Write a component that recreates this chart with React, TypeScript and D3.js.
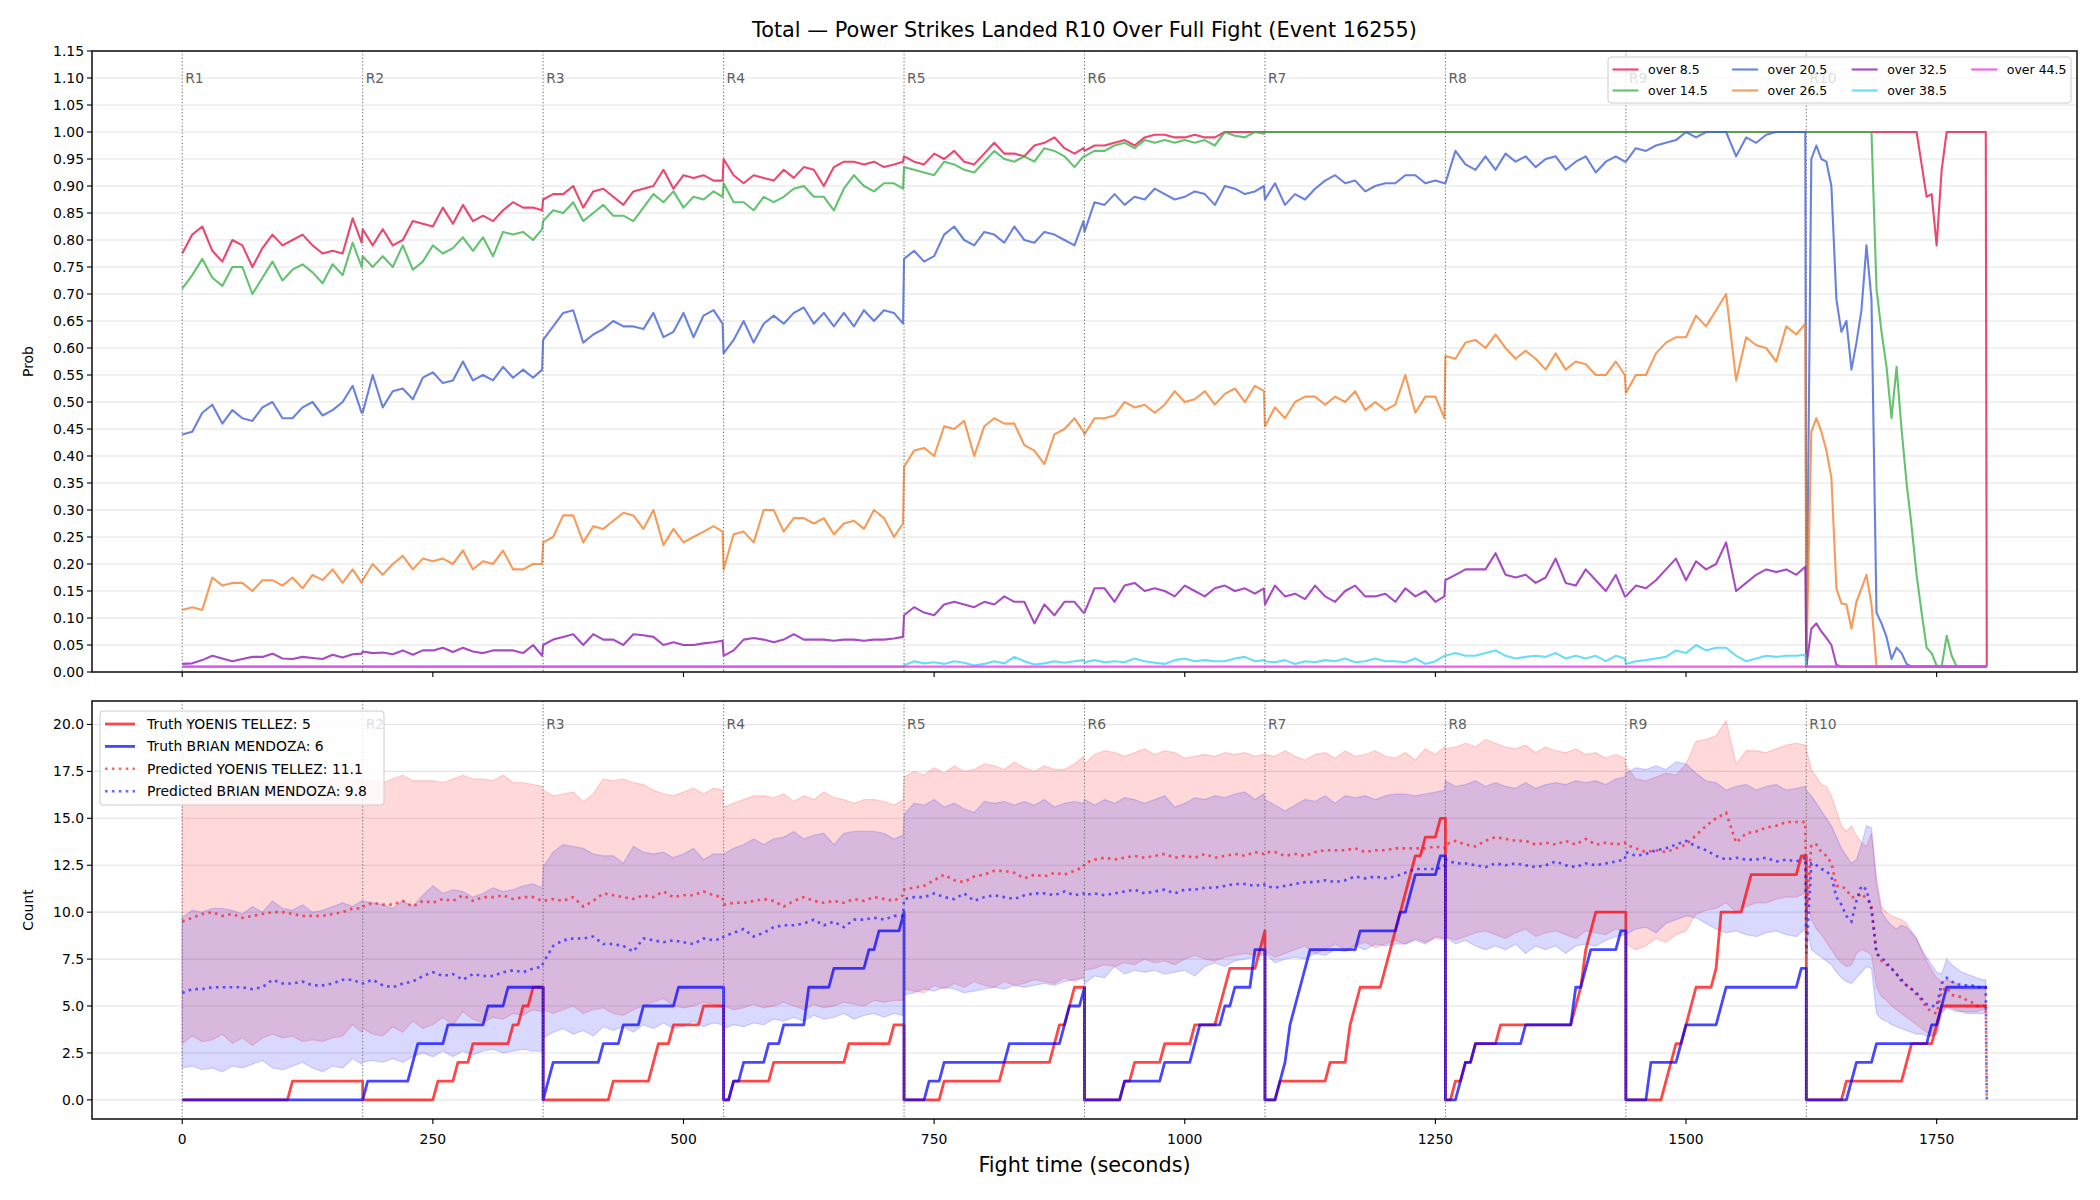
import React from 'react';
import * as d3 from 'd3';

// ---------------- DATA ----------------
const TITLE = 'Total — Power Strikes Landed R10 Over Full Fight (Event 16255)';
const ROUND_STARTS = [0, 180, 360, 540, 720, 900, 1080, 1260, 1440, 1620];
const ROUND_LABELS = ['R1', 'R2', 'R3', 'R4', 'R5', 'R6', 'R7', 'R8', 'R9', 'R10'];
const ROUND_LENGTH = 180;
const OFFSETS = [0, 10, 20, 30, 40, 50, 60, 70, 80, 90, 100, 110, 120, 130, 140, 150, 160, 170, 179];
const OFFSETS_LAST = [0, 5, 10, 15, 20, 25, 30, 35, 40, 45, 50, 55, 60, 65, 70, 75, 80, 85, 90, 95, 100, 105, 110, 115, 120, 125, 130, 135, 140, 145, 150, 155, 160, 165, 170, 175, 179];
const FIGHT_END = 1800;
const X_TICKS = [0, 250, 500, 750, 1000, 1250, 1500, 1750];
const PROB_TICKS = [0, 0.05, 0.1, 0.15, 0.2, 0.25, 0.3, 0.35, 0.4, 0.45, 0.5, 0.55, 0.6, 0.65, 0.7, 0.75, 0.8, 0.85, 0.9, 0.95, 1.0, 1.05, 1.1, 1.15];
const COUNT_TICKS = [0, 2.5, 5, 7.5, 10, 12.5, 15, 17.5, 20];
const THRESHOLDS = [8.5, 14.5, 20.5, 26.5, 32.5, 38.5, 44.5];
const FIGHTERS = ['YOENIS TELLEZ', 'BRIAN MENDOZA'];
const TRUTH_FINAL = [5, 6];
const PRED_FINAL = [11.1, 9.8];

// sample times (rounds 1-9 every 10 s, round 10 every 5 s, then fight end)
const T: number[] = [
  ...ROUND_STARTS.slice(0, 9).flatMap((s) => OFFSETS.map((o) => s + o)),
  ...OFFSETS_LAST.map((o) => ROUND_STARTS[9] + o),
  FIGHT_END,
];

const P_OVER_8_5 = [
  0.775,0.81,0.825,0.78,0.76,0.80,0.79,0.75,0.785,0.81,0.79,0.80,0.81,0.79,0.775,0.78,0.775,0.84,0.795,
  0.82,0.79,0.82,0.79,0.80,0.835,0.83,0.825,0.86,0.83,0.865,0.835,0.845,0.835,0.855,0.87,0.86,0.86,0.855,
  0.875,0.885,0.885,0.90,0.86,0.89,0.895,0.88,0.865,0.89,0.895,0.90,0.93,0.895,0.92,0.915,0.92,0.91,0.91,
  0.95,0.92,0.905,0.92,0.915,0.91,0.93,0.915,0.935,0.93,0.90,0.935,0.945,0.945,0.94,0.945,0.935,0.94,0.945,
  0.955,0.945,0.94,0.96,0.95,0.965,0.945,0.94,0.96,0.98,0.96,0.96,0.955,0.975,0.98,0.99,0.97,0.96,0.97,
  0.965,0.975,0.975,0.98,0.985,0.975,0.99,0.995,0.995,0.99,0.99,0.995,0.99,0.99,1,1,1,1,1,
  1,1,1,1,1,1,1,1,1,1,1,1,1,1,1,1,1,1,1,
  1,1,1,1,1,1,1,1,1,1,1,1,1,1,1,1,1,1,1,
  1,1,1,1,1,1,1,1,1,1,1,1,1,1,1,1,1,1,1,
  1,1,1,1,1,1,1,1,1,1,1,1,1,1,1,1,1,1,1,1,1,1,1,0.94,0.88,0.885,0.79,0.93,1,1,1,1,1,1,1,1,1,
  0.01,
];
const P_OVER_14_5 = [
  0.71,0.735,0.765,0.73,0.715,0.75,0.75,0.70,0.73,0.76,0.725,0.745,0.755,0.74,0.72,0.755,0.735,0.795,0.75,
  0.77,0.75,0.77,0.75,0.79,0.745,0.76,0.79,0.775,0.785,0.805,0.78,0.805,0.77,0.815,0.81,0.815,0.80,0.82,
  0.835,0.855,0.85,0.87,0.835,0.85,0.865,0.845,0.845,0.835,0.86,0.885,0.87,0.89,0.86,0.88,0.875,0.89,0.88,
  0.905,0.87,0.87,0.855,0.88,0.87,0.88,0.895,0.90,0.88,0.88,0.855,0.895,0.92,0.90,0.89,0.905,0.905,0.895,
  0.935,0.93,0.925,0.92,0.945,0.94,0.93,0.925,0.945,0.965,0.95,0.945,0.955,0.945,0.97,0.965,0.955,0.935,0.955,
  0.955,0.965,0.965,0.975,0.98,0.97,0.985,0.98,0.985,0.98,0.985,0.98,0.985,0.975,1,0.993,0.99,1,0.997,
  1,1,1,1,1,1,1,1,1,1,1,1,1,1,1,1,1,1,1,
  1,1,1,1,1,1,1,1,1,1,1,1,1,1,1,1,1,1,1,
  1,1,1,1,1,1,1,1,1,1,1,1,1,1,1,1,1,1,1,
  1,1,1,1,1,1,1,1,1,1,1,1,1,1,0.71,0.63,0.565,0.47,0.565,0.45,0.35,0.27,0.18,0.11,0.045,0.035,0.012,0.01,0.067,0.03,0.01,0.01,0.01,0.01,0.01,0.01,0.01,
  0.01,
];
const P_OVER_20_5 = [
  0.44,0.445,0.48,0.495,0.46,0.485,0.47,0.465,0.49,0.50,0.47,0.47,0.49,0.50,0.475,0.485,0.50,0.53,0.48,
  0.48,0.55,0.49,0.52,0.525,0.505,0.545,0.555,0.535,0.54,0.575,0.54,0.55,0.54,0.565,0.545,0.56,0.545,0.56,
  0.615,0.64,0.665,0.67,0.61,0.625,0.635,0.65,0.64,0.64,0.635,0.665,0.62,0.63,0.665,0.62,0.66,0.67,0.645,
  0.59,0.615,0.65,0.61,0.645,0.66,0.645,0.665,0.675,0.645,0.665,0.64,0.665,0.64,0.67,0.65,0.67,0.665,0.645,
  0.765,0.78,0.76,0.77,0.81,0.825,0.80,0.79,0.815,0.81,0.795,0.825,0.80,0.795,0.815,0.81,0.80,0.79,0.835,
  0.815,0.87,0.865,0.885,0.865,0.88,0.875,0.895,0.885,0.875,0.88,0.89,0.885,0.865,0.90,0.895,0.885,0.89,0.90,
  0.875,0.905,0.865,0.885,0.875,0.895,0.91,0.92,0.905,0.91,0.89,0.90,0.905,0.905,0.92,0.92,0.905,0.91,0.905,
  0.905,0.965,0.94,0.93,0.955,0.93,0.96,0.945,0.955,0.935,0.95,0.955,0.93,0.945,0.955,0.925,0.945,0.955,0.945,
  0.945,0.97,0.965,0.975,0.98,0.985,1,0.99,1,1,1,0.955,0.99,0.98,0.995,1,1,1,1,
  0.01,0.95,0.975,0.95,0.945,0.90,0.69,0.63,0.65,0.56,0.61,0.67,0.79,0.69,0.11,0.09,0.065,0.024,0.045,0.035,0.015,0.01,0.01,0.01,0.01,0.01,0.01,0.01,0.01,0.01,0.01,0.01,0.01,0.01,0.01,0.01,0.01,
  0.01,
];
const P_OVER_26_5 = [
  0.115,0.12,0.115,0.175,0.16,0.165,0.165,0.15,0.17,0.17,0.16,0.175,0.155,0.18,0.17,0.19,0.165,0.19,0.165,
  0.17,0.20,0.18,0.20,0.215,0.19,0.21,0.205,0.21,0.20,0.225,0.19,0.205,0.20,0.225,0.19,0.19,0.20,0.20,
  0.24,0.25,0.29,0.29,0.24,0.27,0.265,0.28,0.295,0.29,0.265,0.30,0.235,0.265,0.24,0.25,0.26,0.27,0.26,
  0.19,0.255,0.26,0.24,0.30,0.30,0.26,0.285,0.285,0.275,0.285,0.255,0.275,0.28,0.265,0.30,0.285,0.25,0.275,
  0.38,0.41,0.415,0.40,0.455,0.45,0.465,0.40,0.455,0.47,0.46,0.46,0.42,0.41,0.385,0.44,0.45,0.47,0.445,
  0.44,0.47,0.47,0.475,0.50,0.49,0.495,0.48,0.495,0.52,0.50,0.505,0.52,0.495,0.515,0.525,0.50,0.53,0.52,
  0.455,0.49,0.47,0.50,0.51,0.51,0.495,0.51,0.50,0.52,0.485,0.50,0.485,0.495,0.55,0.48,0.51,0.51,0.47,
  0.585,0.58,0.61,0.615,0.60,0.625,0.60,0.58,0.595,0.58,0.56,0.59,0.56,0.575,0.57,0.55,0.55,0.575,0.55,
  0.517,0.55,0.55,0.59,0.61,0.62,0.62,0.66,0.64,0.67,0.70,0.54,0.62,0.605,0.60,0.575,0.64,0.625,0.645,
  0.01,0.445,0.47,0.445,0.41,0.36,0.155,0.127,0.125,0.08,0.13,0.155,0.18,0.125,0.01,0.01,0.01,0.01,0.01,0.01,0.01,0.01,0.01,0.01,0.01,0.01,0.01,0.01,0.01,0.01,0.01,0.01,0.01,0.01,0.01,0.01,0.01,
  0.01,
];
const P_OVER_32_5 = [
  0.015,0.016,0.022,0.03,0.025,0.02,0.024,0.028,0.028,0.034,0.025,0.024,0.028,0.026,0.024,0.032,0.027,0.033,0.034,
  0.038,0.035,0.036,0.033,0.04,0.032,0.04,0.04,0.045,0.037,0.045,0.038,0.035,0.04,0.04,0.04,0.035,0.05,0.03,
  0.05,0.06,0.065,0.07,0.05,0.07,0.06,0.06,0.05,0.07,0.068,0.065,0.05,0.055,0.05,0.05,0.053,0.055,0.058,
  0.03,0.04,0.06,0.063,0.06,0.055,0.06,0.07,0.06,0.06,0.06,0.058,0.06,0.06,0.058,0.06,0.06,0.062,0.065,
  0.105,0.12,0.11,0.105,0.125,0.13,0.125,0.12,0.13,0.125,0.14,0.13,0.13,0.09,0.125,0.105,0.13,0.13,0.11,
  0.11,0.155,0.155,0.13,0.16,0.165,0.15,0.155,0.15,0.14,0.16,0.15,0.14,0.155,0.16,0.15,0.155,0.145,0.155,
  0.125,0.16,0.14,0.145,0.135,0.16,0.14,0.13,0.15,0.16,0.14,0.14,0.145,0.13,0.155,0.14,0.15,0.13,0.14,
  0.17,0.18,0.19,0.19,0.19,0.22,0.18,0.175,0.18,0.165,0.175,0.21,0.165,0.16,0.19,0.17,0.15,0.18,0.14,
  0.14,0.16,0.155,0.17,0.19,0.21,0.17,0.205,0.19,0.20,0.24,0.15,0.165,0.18,0.19,0.185,0.19,0.18,0.195,
  0.01,0.08,0.09,0.075,0.063,0.05,0.013,0.01,0.01,0.01,0.01,0.01,0.01,0.01,0.01,0.01,0.01,0.01,0.01,0.01,0.01,0.01,0.01,0.01,0.01,0.01,0.01,0.01,0.01,0.01,0.01,0.01,0.01,0.01,0.01,0.01,0.01,
  0.01,
];
const P_OVER_38_5 = [
  0.01,0.01,0.01,0.01,0.01,0.01,0.01,0.01,0.01,0.01,0.01,0.01,0.01,0.01,0.01,0.01,0.01,0.01,0.01,
  0.01,0.01,0.01,0.01,0.01,0.01,0.01,0.01,0.01,0.01,0.01,0.01,0.01,0.01,0.01,0.01,0.01,0.01,0.01,
  0.01,0.01,0.01,0.01,0.01,0.01,0.01,0.01,0.01,0.01,0.01,0.01,0.01,0.01,0.01,0.01,0.01,0.01,0.01,
  0.01,0.01,0.01,0.01,0.01,0.01,0.01,0.01,0.01,0.01,0.01,0.01,0.01,0.01,0.01,0.01,0.01,0.01,0.01,
  0.012,0.02,0.016,0.018,0.015,0.02,0.017,0.012,0.015,0.02,0.016,0.028,0.02,0.014,0.016,0.02,0.017,0.02,0.022,
  0.018,0.022,0.018,0.02,0.018,0.025,0.02,0.017,0.015,0.022,0.025,0.02,0.022,0.02,0.02,0.025,0.028,0.02,0.022,
  0.02,0.018,0.022,0.015,0.02,0.018,0.022,0.02,0.025,0.018,0.02,0.025,0.02,0.02,0.018,0.025,0.015,0.02,0.03,
  0.03,0.035,0.03,0.03,0.035,0.04,0.03,0.025,0.028,0.03,0.028,0.035,0.025,0.03,0.025,0.03,0.02,0.03,0.025,
  0.015,0.02,0.022,0.025,0.028,0.04,0.035,0.05,0.04,0.045,0.045,0.03,0.02,0.025,0.03,0.028,0.03,0.03,0.032,
  0.01,0.01,0.01,0.01,0.01,0.01,0.01,0.01,0.01,0.01,0.01,0.01,0.01,0.01,0.01,0.01,0.01,0.01,0.01,0.01,0.01,0.01,0.01,0.01,0.01,0.01,0.01,0.01,0.01,0.01,0.01,0.01,0.01,0.01,0.01,0.01,0.01,
  0.01,
];
const P_OVER_44_5 = [
  0.01,0.01,0.01,0.01,0.01,0.01,0.01,0.01,0.01,0.01,0.01,0.01,0.01,0.01,0.01,0.01,0.01,0.01,0.01,
  0.01,0.01,0.01,0.01,0.01,0.01,0.01,0.01,0.01,0.01,0.01,0.01,0.01,0.01,0.01,0.01,0.01,0.01,0.01,
  0.01,0.01,0.01,0.01,0.01,0.01,0.01,0.01,0.01,0.01,0.01,0.01,0.01,0.01,0.01,0.01,0.01,0.01,0.01,
  0.01,0.01,0.01,0.01,0.01,0.01,0.01,0.01,0.01,0.01,0.01,0.01,0.01,0.01,0.01,0.01,0.01,0.01,0.01,
  0.01,0.01,0.01,0.01,0.01,0.01,0.01,0.01,0.01,0.01,0.01,0.01,0.01,0.01,0.01,0.01,0.01,0.01,0.01,
  0.01,0.01,0.01,0.01,0.01,0.01,0.01,0.01,0.01,0.01,0.01,0.01,0.01,0.01,0.01,0.01,0.01,0.01,0.01,
  0.01,0.01,0.01,0.01,0.01,0.01,0.01,0.01,0.01,0.01,0.01,0.01,0.01,0.01,0.01,0.01,0.01,0.01,0.01,
  0.01,0.01,0.01,0.01,0.01,0.01,0.01,0.01,0.01,0.01,0.01,0.01,0.01,0.01,0.01,0.01,0.01,0.01,0.01,
  0.01,0.01,0.01,0.01,0.01,0.01,0.01,0.01,0.01,0.01,0.01,0.01,0.01,0.01,0.01,0.01,0.01,0.01,0.01,
  0.01,0.01,0.01,0.01,0.01,0.01,0.01,0.01,0.01,0.01,0.01,0.01,0.01,0.01,0.01,0.01,0.01,0.01,0.01,0.01,0.01,0.01,0.01,0.01,0.01,0.01,0.01,0.01,0.01,0.01,0.01,0.01,0.01,0.01,0.01,0.01,0.01,
  0.01,
];

// truth: times (s) of each landed power strike; counts reset every round
const RED_STRIKES = [107, 253, 275, 289, 328, 336, 346, 427, 466, 473, 486, 517, 550, 587, 662, 707,
  756, 817, 868, 874, 882, 888, 936, 947, 978, 1007, 1034, 1040, 1045, 1072, 1076,
  1092, 1143, 1161, 1163, 1166, 1173, 1199, 1205, 1210, 1214, 1218, 1222, 1228, 1238, 1254,
  1267, 1277, 1290, 1313, 1389, 1392, 1396, 1400, 1403, 1406,
  1476, 1482, 1490, 1498, 1502, 1508, 1529, 1531, 1533, 1535, 1556, 1562, 1615,
  1660, 1718, 1721, 1747, 1753];
const BLUE_STRIKES = [181, 228, 232, 263, 302, 322, 364, 369, 417, 437, 457, 492,
  550, 557, 582, 597, 621, 623, 648, 683, 692, 718, 742, 758, 822, 880, 885, 896,
  938, 978, 1007, 1015, 1037, 1047, 1068, 1070,
  1095, 1098, 1101, 1104, 1108, 1114, 1118, 1121, 1173, 1213, 1222, 1226, 1253,
  1272, 1280, 1290, 1337, 1388, 1390, 1398, 1401, 1433,
  1462, 1464, 1493, 1500, 1533, 1536, 1614, 1664, 1668, 1688, 1745, 1752, 1757];
const TRUTH_STEP = 5;

const PRED_RED = [
  9.5,9.7,9.9,10.0,9.8,9.9,9.7,9.8,9.9,10.0,10.0,9.9,9.8,9.8,9.8,9.9,10.0,10.2,10.2,
  10.3,10.5,10.4,10.4,10.6,10.3,10.6,10.5,10.7,10.6,10.9,10.6,10.8,10.8,10.9,10.7,10.8,10.8,10.6,
  10.6,10.7,10.6,10.8,10.3,10.6,11.0,10.9,10.8,10.7,10.9,10.8,11.1,10.8,10.9,10.9,11.1,10.9,10.8,
  10.4,10.5,10.5,10.6,10.7,10.6,10.3,10.6,10.8,10.6,10.5,10.6,10.5,10.7,10.6,10.8,10.7,10.6,10.9,
  11.2,11.3,11.4,11.7,12.0,11.7,11.6,11.9,12.0,12.2,12.2,12.1,11.8,12.0,11.9,12.1,12.0,12.2,12.4,
  12.6,12.8,12.9,12.8,12.9,13.0,12.9,13.0,13.1,12.9,13.0,12.9,13.1,12.9,13.0,13.1,13.0,13.2,13.1,
  13.2,13.2,13.0,13.1,13.0,13.2,13.3,13.3,13.3,13.4,13.2,13.3,13.3,13.4,13.4,13.4,13.4,13.5,13.4,
  13.6,13.8,13.6,13.5,13.8,14.0,13.9,13.8,13.8,13.6,13.7,13.6,13.8,13.6,13.9,13.6,13.7,13.6,13.7,
  13.6,13.4,13.2,13.3,13.2,13.4,13.6,14.1,14.6,15.0,15.3,13.7,14.2,14.3,14.5,14.6,14.8,14.8,14.8,
  9.8,13.6,13.6,13.2,13.0,12.6,11.4,11.4,11.2,10.8,10.8,11.0,10.7,10.4,7.8,7.4,7.2,7.0,6.7,6.3,6.1,5.9,5.6,5.3,4.9,4.7,4.6,5.8,6.0,5.6,5.5,5.5,5.3,5.2,5.0,5.0,5.0,
  0,
];
const PRED_BLUE = [
  5.7,5.9,5.9,6.0,6.0,6.0,6.0,5.9,6.0,6.4,6.2,6.2,6.3,6.1,6.1,6.2,6.4,6.4,6.2,
  6.2,6.4,6.1,6.0,6.2,6.3,6.6,6.8,6.6,6.7,6.4,6.7,6.6,6.6,6.8,6.9,6.8,7.0,7.1,
  7.3,8.2,8.5,8.6,8.6,8.7,8.3,8.3,8.2,7.9,8.6,8.5,8.4,8.5,8.4,8.3,8.6,8.5,8.6,
  8.7,8.9,9.1,8.7,8.9,9.2,9.3,9.3,9.4,9.6,9.3,9.5,9.2,9.6,9.6,9.7,9.6,9.8,9.8,
  10.7,10.8,10.8,11.0,10.8,10.7,11.0,10.6,10.8,10.9,10.8,10.7,10.9,11.0,11.0,10.9,11.1,10.9,11.0,
  10.9,11.0,10.9,11.0,11.1,11.2,11.0,11.1,11.2,11.0,11.2,11.2,11.3,11.3,11.4,11.5,11.5,11.4,11.5,
  11.4,11.3,11.4,11.5,11.6,11.6,11.7,11.6,11.7,11.9,11.8,11.9,11.8,11.9,12.1,12.3,12.3,12.3,12.4,
  12.8,12.6,12.6,12.5,12.4,12.6,12.5,12.6,12.5,12.4,12.5,12.7,12.5,12.4,12.6,12.5,12.6,12.7,12.8,
  13.2,13.0,13.1,13.3,13.4,13.6,13.8,13.5,13.3,13.0,12.8,12.9,12.8,12.8,12.9,12.7,12.8,12.7,12.9,
  7.8,12.6,12.5,12.3,12.2,11.9,10.8,10.4,9.8,9.5,10.6,11.4,11.2,10.1,7.8,7.6,7.3,7.0,6.7,6.4,6.1,5.9,5.7,5.4,5.1,5.0,5.0,6.2,6.5,6.3,6.2,6.1,6.1,6.1,6.0,6.0,6.0,
  0,
];
const RED_HI = [
  16.6,16.9,17.0,16.7,16.8,17.1,16.9,16.7,17.0,16.8,16.9,17.2,16.8,17.0,16.9,17.1,17.3,17.0,17.2,
  17.0,17.0,16.9,17.1,17.3,17.0,17.0,17.0,16.9,17.1,17.3,17.1,17.1,17.0,17.3,16.9,16.9,16.8,16.7,
  16.5,16.2,16.3,16.4,15.9,16.3,17.1,17.0,17.1,16.9,16.8,16.5,16.3,16.2,16.4,16.6,16.3,16.6,16.5,
  15.6,15.8,16.0,16.2,16.2,16.1,16.3,15.9,16.2,16.0,16.4,16.1,16.0,15.8,16.0,16.0,15.9,15.7,16.0,
  17.2,17.5,17.3,17.7,17.4,17.8,17.5,17.6,17.9,17.8,17.6,18.0,17.7,17.5,17.8,17.6,17.6,17.9,18.3,
  17.9,18.4,18.6,18.5,18.3,18.5,18.7,18.4,18.6,18.5,18.2,18.3,18.4,18.3,18.5,18.4,18.5,18.3,18.4,
  18.4,18.3,18.6,18.3,18.1,18.4,18.5,18.2,18.6,18.3,18.4,18.6,18.3,18.2,18.5,18.1,18.7,18.4,18.8,
  18.7,18.8,19.0,18.8,19.2,19.0,18.8,18.7,18.9,18.5,18.8,18.6,18.5,18.7,18.4,18.5,18.2,18.4,18.2,
  17.8,17.1,17.0,17.2,17.4,17.3,17.9,19.1,19.2,19.4,20.2,17.9,18.6,18.6,18.5,18.7,18.9,19.0,18.9,
  18.7,17.6,17.2,16.8,16.7,16.2,15.4,14.6,14.3,14.6,14.1,13.7,13.5,14.2,11.9,10.3,10.0,9.8,9.7,9.6,9.4,9.0,8.6,8.0,7.4,6.9,6.5,6.3,6.4,6.3,6.2,6.0,5.9,5.9,5.9,5.9,5.9,
];
const RED_LO = [
  3.0,3.4,3.1,3.2,3.5,3.0,3.3,2.9,3.3,3.5,3.3,3.4,3.1,3.2,3.1,3.3,3.4,4.0,3.6,
  3.8,3.5,3.4,3.9,3.6,4.2,3.8,4.0,4.4,4.0,4.7,4.3,4.1,4.4,4.3,4.6,4.5,4.8,4.7,
  4.8,4.6,4.8,5.0,4.6,4.8,4.9,4.6,4.5,4.8,5.0,5.2,5.4,5.0,4.9,5.0,5.2,5.1,4.9,
  5.0,4.8,4.9,5.1,4.9,5.0,5.2,5.0,4.8,5.1,4.9,5.0,5.2,5.1,5.0,5.3,5.2,5.3,5.3,
  5.9,5.8,5.7,6.1,5.9,6.2,6.0,6.3,6.1,6.0,6.3,6.1,6.2,6.4,6.3,6.2,6.5,6.3,6.5,
  6.9,7.0,7.2,7.1,7.3,7.2,7.5,7.3,7.4,7.2,7.5,7.7,7.5,7.4,7.6,7.7,7.8,7.7,7.8,
  7.9,7.6,7.8,8.0,8.2,7.8,8.0,8.3,8.0,8.2,8.4,8.1,8.3,8.5,8.3,8.6,8.4,8.6,8.5,
  8.7,8.5,8.7,8.9,9.0,8.8,8.6,8.9,9.1,8.7,8.9,9.0,8.8,8.6,9.0,8.9,8.8,9.1,9.0,
  8.3,8.0,8.2,8.6,8.4,8.8,9.0,9.9,10.1,10.2,10.5,10.0,10.3,10.5,10.5,10.7,10.8,10.8,11.0,
  10.9,9.6,9.1,8.8,8.4,8.0,7.6,7.3,7.1,7.2,7.8,8.0,7.9,7.7,6.0,5.5,5.3,5.0,4.8,4.6,4.4,4.2,4.0,3.8,3.6,3.4,3.5,4.7,5.0,4.9,4.8,4.7,4.7,4.7,4.7,4.8,4.8,
];
const BLUE_HI = [
  9.7,10.1,10.0,10.2,10.2,10.1,9.9,10.3,10.0,10.6,10.2,10.1,10.4,10.0,10.1,10.3,10.5,10.3,10.6,
  10.6,10.5,10.4,10.2,10.6,10.3,10.9,11.4,11.0,11.2,11.1,10.8,11.0,11.3,11.1,11.2,11.4,11.5,11.3,
  12.4,13.2,13.6,13.5,13.4,13.1,13.0,13.0,12.6,13.5,13.2,13.1,13.2,12.9,13.1,13.4,12.8,13.1,13.1,
  13.1,13.4,13.6,13.9,13.6,13.9,14.0,14.3,13.9,14.1,14.2,13.6,14.2,14.3,14.3,14.3,14.2,13.9,14.1,
  15.2,15.8,15.7,16.0,15.6,15.8,15.5,15.3,15.9,15.8,15.9,15.7,15.9,15.7,16.0,15.6,15.8,15.9,15.8,
  16.0,15.7,16.0,15.8,16.1,16.0,15.8,16.0,16.2,15.6,15.8,16.1,16.0,16.2,16.1,16.3,16.4,16.0,16.3,
  16.0,15.7,15.4,15.7,16.0,15.9,16.2,15.8,16.2,16.1,16.2,16.0,16.2,16.3,16.3,16.2,16.3,16.4,16.5,
  17.0,16.7,16.8,17.0,16.7,16.9,16.7,16.6,16.9,16.6,16.8,16.9,16.8,17.0,16.9,17.0,16.8,17.1,17.2,
  17.4,17.7,17.6,17.8,17.6,18.0,17.9,17.4,17.0,16.9,16.5,16.7,16.8,16.5,16.7,16.8,16.5,16.6,16.7,
  16.5,16.2,15.8,15.4,15.0,14.6,14.0,13.4,13.0,12.6,12.8,13.6,14.6,14.5,11.5,10.0,9.6,9.3,9.1,9.3,9.2,8.9,8.6,8.0,7.6,7.2,6.8,6.7,7.5,7.2,7.0,6.8,6.7,6.6,6.5,6.4,6.4,
];
const BLUE_LO = [
  1.7,1.8,1.6,1.7,1.5,1.8,1.7,1.9,2.1,1.7,1.6,1.8,2.0,1.7,1.5,1.8,1.7,2.2,1.9,
  2.0,2.1,2.0,2.2,2.0,2.3,2.5,2.3,2.6,2.3,2.6,2.4,2.6,2.7,2.5,2.6,2.7,2.6,2.6,
  3.3,3.6,3.8,3.5,3.7,3.4,3.9,3.7,3.9,3.6,4.0,3.8,4.1,3.8,3.9,4.2,3.9,4.1,4.0,
  3.8,4.0,3.9,4.1,4.0,4.3,4.2,4.4,4.2,4.5,4.3,4.4,4.6,4.3,4.5,4.6,4.4,4.6,4.5,
  5.6,5.7,5.9,5.8,6.0,5.9,5.7,5.8,5.9,6.0,5.9,6.1,6.0,6.1,6.2,6.1,6.3,6.4,6.5,
  6.2,6.6,6.5,7.1,6.7,6.9,6.8,6.9,6.7,6.8,6.9,6.6,7.1,7.3,7.1,7.4,7.5,7.6,7.7,
  7.8,7.3,7.5,7.6,7.5,7.8,7.7,8.0,7.9,8.2,8.0,8.3,8.2,8.3,8.3,8.5,8.3,8.7,8.6,
  8.7,8.3,8.5,8.2,8.0,8.2,8.0,8.3,7.8,8.2,8.0,8.2,7.8,8.2,8.3,8.2,8.5,8.7,8.8,
  8.8,9.1,9.2,8.9,9.4,9.6,9.8,9.7,9.4,9.1,8.9,9.0,8.8,8.7,8.9,9.0,8.8,8.7,9.1,
  9.4,8.0,7.8,7.6,7.4,7.2,6.8,6.5,6.3,6.2,6.5,6.8,7.1,7.0,4.6,4.3,4.2,4.0,3.9,3.8,3.7,3.6,3.5,3.5,3.4,3.4,3.5,4.6,4.9,4.8,4.7,4.7,4.6,4.6,4.6,4.6,4.6,
];

// ---------------- STYLE ----------------
const FONT = 'DejaVu Sans, sans-serif';
const SERIES_COLORS = ['#e6194b', '#3cb44b', '#4363d8', '#f58231', '#911eb4', '#42d4f4', '#f032e6'];
const PROB_SERIES = [P_OVER_8_5, P_OVER_14_5, P_OVER_20_5, P_OVER_26_5, P_OVER_32_5, P_OVER_38_5, P_OVER_44_5];

const L = 92, R = 2077;
const TOP = { y0: 51, y1: 672 };
const BOT = { y0: 701, y1: 1119 };

// cumulative count within each round, sampled every TRUTH_STEP seconds (end of round included)
function truthSeries(strikes: number[]): [number, number][] {
  const pts: [number, number][] = [];
  ROUND_STARTS.forEach((start) => {
    const inRound = strikes.filter((s) => s >= start && s < start + ROUND_LENGTH);
    for (let o = 0; o <= ROUND_LENGTH; o += TRUTH_STEP) {
      const t = start + o;
      pts.push([t, inRound.filter((s) => s <= t).length]);
    }
  });
  return pts;
}

export default function App() {
  const x = d3.scaleLinear().domain([-90, 1890]).range([L, R]);
  const yT = d3.scaleLinear().domain([0, 1.15]).range([TOP.y1, TOP.y0]);
  const yB = d3.scaleLinear().domain([-1.02, 21.25]).range([BOT.y1, BOT.y0]);

  const lineOf = (ys: number[], yS: d3.ScaleLinear<number, number>) => {
    const n = Math.min(T.length, ys.length);
    const pts: [number, number][] = d3.range(n).map((i) => [T[i], ys[i]]);
    return d3.line<[number, number]>().x((d) => x(d[0])).y((d) => yS(d[1]))(pts) || '';
  };
  const pathOf = (pts: [number, number][]) =>
    d3.line<[number, number]>().x((d) => x(d[0])).y((d) => yB(d[1]))(pts) || '';
  const bandOf = (lo: number[], hi: number[]) => {
    const n = Math.min(lo.length, hi.length, T.length);
    return d3.area<number>().x((i) => x(T[i])).y0((i) => yB(lo[i])).y1((i) => yB(hi[i]))(d3.range(n)) || '';
  };

  const truthRed = truthSeries(RED_STRIKES);
  const truthBlue = truthSeries(BLUE_STRIKES);

  const spine = '#1a1a1a';
  const grid = '#e3e3e3';

  const frame = (p: { y0: number; y1: number }) => (
    <rect x={L} y={p.y0} width={R - L} height={p.y1 - p.y0} fill="none" stroke={spine} strokeWidth={1.6} />
  );

  const roundLines = (p: { y0: number; y1: number }, labelY: number) => (
    <g>
      {ROUND_STARTS.map((s, i) => (
        <g key={i}>
          <line x1={x(s)} x2={x(s)} y1={p.y0} y2={p.y1} stroke="#6e6e6e" strokeWidth={1.1} strokeDasharray="1.2,2.2" />
          <text x={x(s) + 3} y={labelY} fontSize={13.9} fill="#606060" dominantBaseline="central">{ROUND_LABELS[i]}</text>
        </g>
      ))}
    </g>
  );

  const xTicks = (p: { y0: number; y1: number }, labels: boolean) => (
    <g>
      {X_TICKS.map((v) => (
        <g key={v}>
          <line x1={x(v)} x2={x(v)} y1={p.y1} y2={p.y1 + 5} stroke="#000" strokeWidth={1.1} />
          {labels && (
            <text x={x(v)} y={p.y1 + 20} fontSize={13.9} textAnchor="middle" dominantBaseline="central" fill="#000">{v}</text>
          )}
        </g>
      ))}
    </g>
  );

  return (
    <svg width={2100} height={1200} style={{ position: 'absolute', left: 0, top: 0, background: '#fff' }} fontFamily={FONT}>
      <rect x={0} y={0} width={2100} height={1200} fill="#fff" />
      <text x={(L + R) / 2} y={37} fontSize={20.8} textAnchor="middle" fill="#000">{TITLE}</text>

      {/* ---------- TOP PANEL ---------- */}
      <g>
        {PROB_TICKS.map((v) => (
          <line key={v} x1={L} x2={R} y1={yT(v)} y2={yT(v)} stroke={grid} strokeWidth={1.1} />
        ))}
        {PROB_SERIES.map((s, i) => (
          <path key={i} d={lineOf(s, yT)} fill="none" stroke={SERIES_COLORS[i]} strokeOpacity={0.8} strokeWidth={2.1} strokeLinejoin="round" />
        ))}
        {roundLines(TOP, TOP.y0 + 27)}
        {frame(TOP)}
        {PROB_TICKS.map((v) => (
          <g key={v}>
            <line x1={L - 5} x2={L} y1={yT(v)} y2={yT(v)} stroke="#000" strokeWidth={1.1} />
            <text x={L - 8} y={yT(v)} fontSize={13.9} textAnchor="end" dominantBaseline="central" fill="#000">{v.toFixed(2)}</text>
          </g>
        ))}
        {xTicks(TOP, false)}
        <text transform={`translate(28,${(TOP.y0 + TOP.y1) / 2}) rotate(-90)`} fontSize={13.9} textAnchor="middle" dominantBaseline="central">Prob</text>
        {/* legend */}
        <g>
          <rect x={1608} y={57} width={463} height={46} rx={3} fill="#fff" fillOpacity={0.8} stroke="#cccccc" strokeWidth={1} />
          {THRESHOLDS.map((th, i) => {
            const c = Math.floor(i / 2), r = i % 2;
            const hx = 1612.5 + 119.6 * c, yy = 69.5 + 21 * r;
            return (
              <g key={th}>
                <line x1={hx} x2={hx + 26} y1={yy} y2={yy} stroke={SERIES_COLORS[i]} strokeOpacity={0.8} strokeWidth={2.1} />
                <text x={hx + 35.5} y={yy} fontSize={12.5} dominantBaseline="central" fill="#000">{`over ${th}`}</text>
              </g>
            );
          })}
        </g>
      </g>

      {/* ---------- BOTTOM PANEL ---------- */}
      <g>
        {COUNT_TICKS.map((v) => (
          <line key={v} x1={L} x2={R} y1={yB(v)} y2={yB(v)} stroke={grid} strokeWidth={1.1} />
        ))}
        <path d={bandOf(RED_LO, RED_HI)} fill="#ff0000" fillOpacity={0.15} stroke="#ff0000" strokeOpacity={0.15} strokeWidth={1.3} />
        <path d={bandOf(BLUE_LO, BLUE_HI)} fill="#0000ff" fillOpacity={0.15} stroke="#0000ff" strokeOpacity={0.15} strokeWidth={1.3} />
        <path d={pathOf(truthRed)} fill="none" stroke="#ff0000" strokeOpacity={0.72} strokeWidth={2.8} strokeLinejoin="round" />
        <path d={pathOf(truthBlue)} fill="none" stroke="#0000ff" strokeOpacity={0.72} strokeWidth={2.8} strokeLinejoin="round" />
        <path d={lineOf(PRED_RED, yB)} fill="none" stroke="#ff0000" strokeOpacity={0.6} strokeWidth={2.6} strokeDasharray="2.6,4.3" />
        <path d={lineOf(PRED_BLUE, yB)} fill="none" stroke="#0000ff" strokeOpacity={0.6} strokeWidth={2.6} strokeDasharray="2.6,4.3" />
        {roundLines(BOT, BOT.y0 + 23)}
        {frame(BOT)}
        {COUNT_TICKS.map((v) => (
          <g key={v}>
            <line x1={L - 5} x2={L} y1={yB(v)} y2={yB(v)} stroke="#000" strokeWidth={1.1} />
            <text x={L - 8} y={yB(v)} fontSize={13.9} textAnchor="end" dominantBaseline="central" fill="#000">{v.toFixed(1)}</text>
          </g>
        ))}
        {xTicks(BOT, true)}
        <text transform={`translate(28,${(BOT.y0 + BOT.y1) / 2}) rotate(-90)`} fontSize={13.9} textAnchor="middle" dominantBaseline="central">Count</text>
        <text x={(L + R) / 2} y={1172} fontSize={20.8} textAnchor="middle" fill="#000">Fight time (seconds)</text>
        {/* legend */}
        <g>
          <rect x={100} y={711} width={284} height={94} rx={3} fill="#fff" fillOpacity={0.8} stroke="#cccccc" strokeWidth={1} />
          {[0, 1, 2, 3].map((i) => {
            const yy = 724 + 22.4 * i;
            const isRed = i % 2 === 0;
            const col = isRed ? '#ff0000' : '#0000ff';
            const name = FIGHTERS[i % 2];
            const label = i < 2 ? `Truth ${name}: ${TRUTH_FINAL[i % 2]}` : `Predicted ${name}: ${PRED_FINAL[i % 2]}`;
            return (
              <g key={i}>
                <line x1={105} x2={135} y1={yy} y2={yy} stroke={col}
                  strokeOpacity={i < 2 ? 0.72 : 0.6} strokeWidth={i < 2 ? 2.8 : 2.6}
                  strokeDasharray={i < 2 ? undefined : '2.6,4.3'} />
                <text x={147} y={yy} fontSize={13.9} dominantBaseline="central" fill="#000">{label}</text>
              </g>
            );
          })}
        </g>
      </g>
    </svg>
  );
}
